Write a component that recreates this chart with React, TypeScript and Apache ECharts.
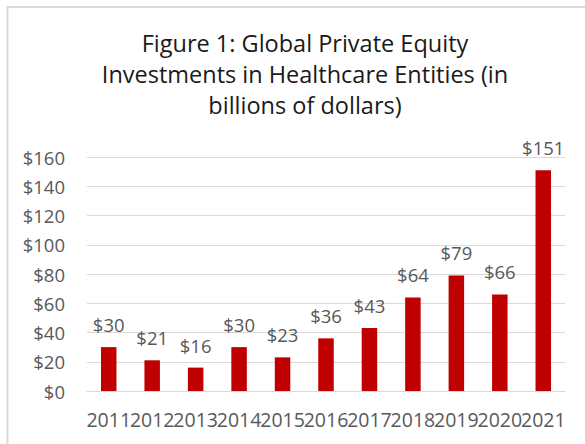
import React, { useEffect, useRef } from "react";
import * as echarts from "echarts";

const categories = ["2011", "2012", "2013", "2014", "2015", "2016", "2017", "2018", "2019", "2020", "2021"];
const investments = [30, 21, 16, 30, 23, 36, 43, 64, 79, 66, 151];
const titleLines = ["Figure 1: Global Private Equity", "Investments in Healthcare Entities (in", "billions of dollars)"];

const FONT = "'Open Sans', 'Noto Sans', sans-serif";

export default function App() {
  const ref = useRef<HTMLDivElement>(null);
  useEffect(() => {
    if (!ref.current) return;
    const chart = echarts.init(ref.current, null, { renderer: "svg" });
    chart.setOption({
      animation: false,
      backgroundColor: "#ffffff",
      title: {
        text: titleLines.join("\n"),
        left: 300,
        top: 22,
        textAlign: "center",
        textStyle: { fontFamily: FONT, fontSize: 23.5, fontWeight: "normal", color: "#1a1a1a", lineHeight: 31 },
      },
      graphic: [
        {
          type: "rect",
          shape: { x: 7.5, y: 7, width: 620, height: 460 },
          style: { fill: "none", stroke: "#d9d9d9", lineWidth: 2 },
          silent: true,
        },
      ],
      grid: { left: 87, right: 20, top: 157, bottom: 53, containLabel: false },
      xAxis: {
        type: "category",
        data: categories,
        axisLine: { lineStyle: { color: "#d9d9d9", width: 1 } },
        axisTick: { show: false },
        axisLabel: { fontFamily: FONT, fontSize: 19.5, color: "#595959", margin: 18, interval: 0 },
      },
      yAxis: {
        type: "value",
        min: 0,
        max: 160,
        interval: 20,
        axisLine: { show: false },
        axisTick: { show: false },
        splitLine: { lineStyle: { color: "#d9d9d9", width: 1 } },
        axisLabel: { fontFamily: FONT, fontSize: 18.5, color: "#595959", margin: 22, formatter: (v: number) => "$" + v },
      },
      series: [
        {
          type: "bar",
          data: investments,
          barWidth: 15.5,
          itemStyle: { color: "#c00000" },
          label: {
            show: true,
            position: "top",
            distance: 13,
            fontFamily: FONT,
            fontSize: 18.5,
            color: "#595959",
            formatter: (p: any) => "$" + p.value,
          },
        },
      ],
    });
    return () => chart.dispose();
  }, []);
  return <div ref={ref} style={{ position: "fixed", left: 0, top: 0, width: 585, height: 444 }} />;
}
